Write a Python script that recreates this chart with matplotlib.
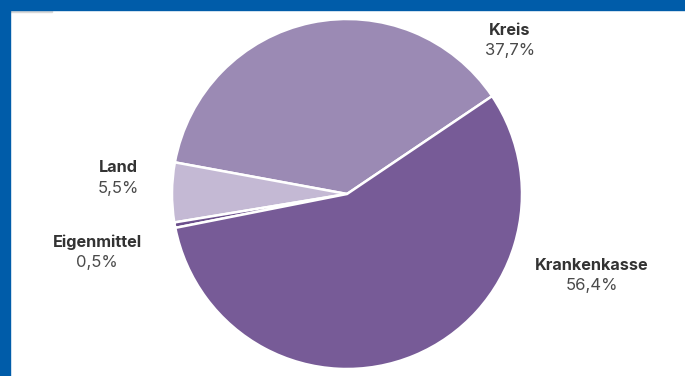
import matplotlib.pyplot as plt
from matplotlib.patches import Rectangle

# data
kategorien = ['Kreis', 'Land', 'Eigenmittel', 'Krankenkasse']
anteile = [37.7, 5.5, 0.5, 56.4]
farben = ['#9b8ab4', '#c4b9d4', '#6b4f8c', '#775b97']

# label centres in pixel (x, y from top) of the 685x376 picture
label_pos = [(510, 40), (118, 178), (97, 252), (592, 275)]

W, H = 685, 376
cx, cy, r = 347, 194, 175

plt.rcParams['font.family'] = ['Inter', 'DejaVu Sans']

fig = plt.figure(figsize=(W / 100, H / 100), dpi=100)
fig.patch.set_facecolor('white')

ax = fig.add_axes([(cx - r) / W, (H - cy - r) / H, 2 * r / W, 2 * r / H])
ax.pie(anteile, colors=farben, startangle=34, counterclock=True,
       radius=1, wedgeprops=dict(edgecolor='white', linewidth=1.8))
ax.set_xlim(-1, 1)
ax.set_ylim(-1, 1)
ax.set_aspect('auto')
ax.axis('off')

for name, wert, (px, py) in zip(kategorien, anteile, label_pos):
    fx = px / W
    fy = 1 - py / H
    fig.text(fx, fy + 10 / H, name, ha='center', va='center',
             fontsize=11.7, fontweight='bold', color='#333333')
    txt = f'{wert:.1f}%'.replace('.', ',')
    fig.text(fx, fy - 10.5 / H, txt, ha='center', va='center',
             fontsize=12, color='#4a4a4a')

# blue frame top and left
blau = '#005ca9'
fig.patches.append(Rectangle((0, 1 - 10 / H), 1, 10 / H, transform=fig.transFigure,
                             color=blau, zorder=5))
fig.patches.append(Rectangle((0, 0), 10 / W, 1, transform=fig.transFigure,
                             color=blau, zorder=5))
fig.patches.append(Rectangle((10 / W, 1 - 11.5 / H), 42 / W, 1.5 / H,
                             transform=fig.transFigure, color='#d8d8d8', zorder=4))

fig.savefig('out.png', dpi=100, facecolor='white')
